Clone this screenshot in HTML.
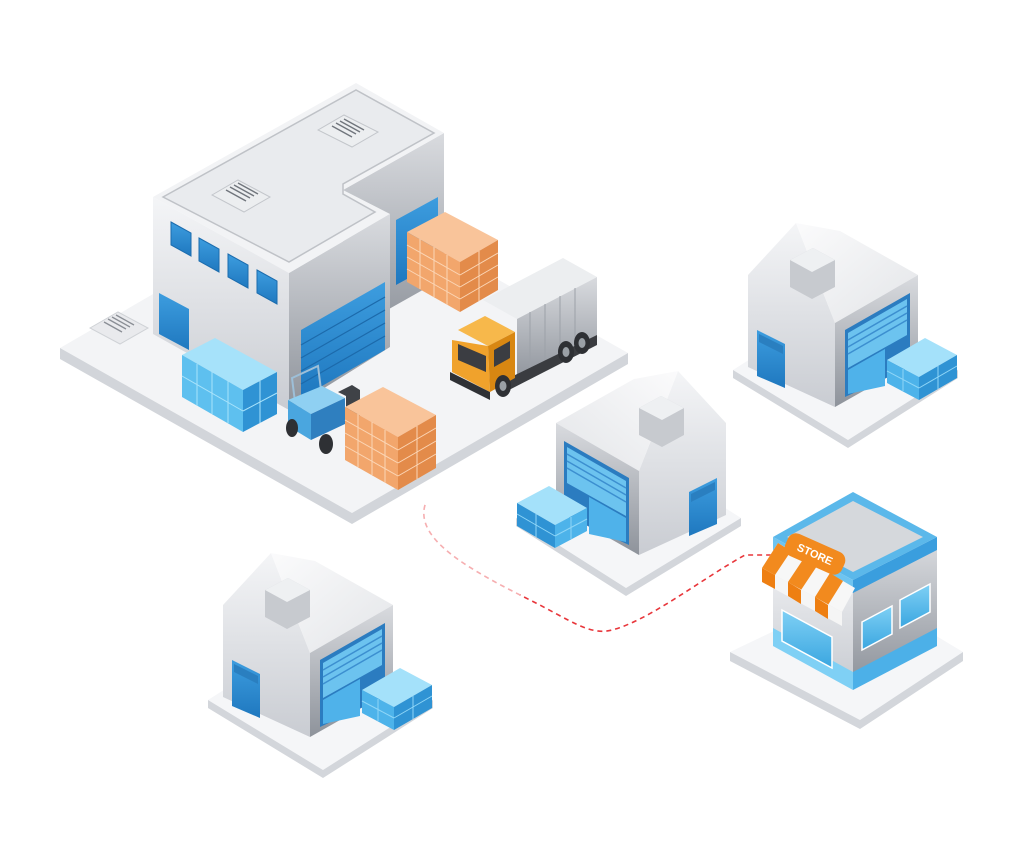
<!DOCTYPE html>
<html><head><meta charset="utf-8"><style>
html,body{margin:0;padding:0;background:#fff;}
svg{display:block;}
</style></head><body>
<svg width="1024" height="853" viewBox="0 0 1024 853" xmlns="http://www.w3.org/2000/svg">
<defs>
<linearGradient id="lw" x1="0" y1="0" x2="0" y2="1"><stop offset="0" stop-color="#f4f5f7"/><stop offset="1" stop-color="#c9ccd2"/></linearGradient>
<linearGradient id="rw" x1="0" y1="0" x2="0" y2="1"><stop offset="0" stop-color="#d9dbdf"/><stop offset="1" stop-color="#8e939b"/></linearGradient>
<linearGradient id="rf" x1="0" y1="0" x2="1" y2="1"><stop offset="0" stop-color="#fbfbfc"/><stop offset="1" stop-color="#e3e5e8"/></linearGradient>
<linearGradient id="bl" x1="0" y1="0" x2="0" y2="1"><stop offset="0" stop-color="#3d9ddf"/><stop offset="1" stop-color="#1f78bf"/></linearGradient>
<linearGradient id="lb" x1="0" y1="0" x2="0" y2="1"><stop offset="0" stop-color="#7fd0f5"/><stop offset="1" stop-color="#3aa6e0"/></linearGradient>
<g id="house">
  <polygon points="208,700 318,630 433,700 323,770" fill="#f5f6f8"/>
  <polygon points="208,700 323,770 433,700 433,708 323,778 208,708" fill="#d3d6db"/>
  <polygon points="223,697 223,605 271,553 310,653 310,737" fill="url(#lw)"/>
  <polygon points="271,553 315,561 393,605 310,653" fill="url(#rf)"/>
  <polygon points="310,653 393,605 393,690 310,737" fill="url(#rw)"/>
  <polygon points="232,660 260,674 260,718 232,706" fill="url(#bl)"/>
  <polygon points="234,664 258,676 258,684 234,672" fill="#2a7fc0"/>
  <polygon points="265,590 288,578 310,590 310,617 287,629 265,617" fill="#c7cacf"/>
  <polygon points="265,590 288,578 310,590 287,602" fill="#eef0f2"/>
  <polygon points="320,660 385,623 385,697 320,727" fill="#2b7cc0"/>
  <polygon points="323,663 382,629 382,665 323,698" fill="#6cc3ef"/>
  <g stroke="#3c8fd0" stroke-width="1.5"><line x1="323" y1="670" x2="382" y2="636"/><line x1="323" y1="677" x2="382" y2="643"/><line x1="323" y1="684" x2="382" y2="650"/></g>
  <polygon points="323,700 360,679 360,716 323,724" fill="#4fb2ea"/>
  <polygon points="362,690 400,668 432,685 394,707" fill="#a4e1fa"/>
  <polygon points="362,690 394,707 394,730 362,713" fill="#4db3ea"/>
  <polygon points="394,707 432,685 432,708 394,730" fill="#2f93d4"/>
  <g stroke="#8fd6f7" stroke-width="1"><line x1="378" y1="699" x2="378" y2="721"/><line x1="362" y1="701" x2="394" y2="718"/><line x1="413" y1="696" x2="413" y2="719"/><line x1="394" y1="718" x2="432" y2="696"/></g>
</g>
</defs>

<!-- main platform -->
<polygon points="60,348 336,188 628,353 352,513" fill="#f3f4f6"/>
<polygon points="60,348 352,513 628,353 628,364 352,524 60,359" fill="#d2d5da"/>
<!-- floor vent -->
<polygon points="90,328 118,312 148,328 120,344" fill="#e9eaed" stroke="#cfd2d6"/>
<g stroke="#8a8e95" stroke-width="1.3"><line x1="104" y1="322" x2="122" y2="332"/><line x1="108" y1="319" x2="126" y2="329"/><line x1="112" y1="317" x2="130" y2="327"/><line x1="116" y1="315" x2="134" y2="325"/></g>

<!-- rear block -->
<polygon points="343,190 444,133 444,278 343,335" fill="url(#rw)"/>
<polygon points="396,220 438,197 438,262 396,285" fill="url(#bl)"/>
<!-- front block -->
<polygon points="153,197 289,273 289,410 153,334" fill="url(#lw)"/>
<polygon points="289,273 390,214 390,347 289,410" fill="url(#rw)"/>
<polygon points="153,197 356,83 444,133 343,190 390,214 289,273" fill="#f2f3f5"/>
<polygon points="163,197 356,90 434,133 343,184 343,194 375,212 289,262" fill="#e9ebee" stroke="#bfc2c7" stroke-width="1.5"/>
<!-- roof vents -->
<polygon points="212,195 238,180 270,197 244,212" fill="#eceef0" stroke="#c3c6cb"/>
<g stroke="#70757c" stroke-width="1.4"><line x1="226" y1="190" x2="246" y2="201"/><line x1="230" y1="187" x2="250" y2="198"/><line x1="234" y1="185" x2="254" y2="196"/><line x1="238" y1="183" x2="258" y2="194"/></g>
<polygon points="318,130 344,115 378,132 352,147" fill="#eceef0" stroke="#c3c6cb"/>
<g stroke="#70757c" stroke-width="1.4"><line x1="332" y1="126" x2="352" y2="137"/><line x1="336" y1="123" x2="356" y2="134"/><line x1="340" y1="121" x2="360" y2="132"/><line x1="344" y1="119" x2="364" y2="130"/></g>
<!-- windows -->
<g fill="url(#bl)" stroke="#1b6cae" stroke-width="1">
<polygon points="171,222 191,233 191,256 171,245"/>
<polygon points="199,238 219,249 219,272 199,261"/>
<polygon points="228,254 248,265 248,288 228,277"/>
<polygon points="257,270 277,281 277,304 257,293"/>
</g>
<polygon points="159,293 189,309 189,350 159,334" fill="url(#bl)"/>
<!-- garage door front -->
<polygon points="301,330 385,282 385,350 301,398" fill="url(#bl)"/>
<g stroke="#1c6aab" stroke-width="1.2"><line x1="301" y1="345" x2="385" y2="297"/><line x1="301" y1="358" x2="385" y2="310"/><line x1="301" y1="371" x2="385" y2="323"/><line x1="301" y1="384" x2="385" y2="336"/></g>

<!-- pallet 1 -->
<polygon points="407,232 445,212 498,240 460,262" fill="#f9c49a"/>
<polygon points="407,232 460,262 460,312 407,282" fill="#f2a66c"/>
<polygon points="460,262 498,240 498,290 460,312" fill="#e38b4a"/>
<g stroke="#fbd6b6" stroke-width="1"><line x1="407" y1="245" x2="460" y2="275"/><line x1="407" y1="257" x2="460" y2="287"/><line x1="407" y1="269" x2="460" y2="299"/><line x1="420" y1="239" x2="420" y2="289"/><line x1="434" y1="247" x2="434" y2="297"/><line x1="447" y1="255" x2="447" y2="305"/><line x1="479" y1="251" x2="479" y2="301"/><line x1="460" y1="275" x2="498" y2="253"/><line x1="460" y1="287" x2="498" y2="265"/><line x1="460" y1="299" x2="498" y2="277"/></g>

<!-- blue box stack -->
<polygon points="182,355 215,338 277,372 243,390" fill="#a6e2fa"/>
<polygon points="182,355 243,390 243,432 182,397" fill="#5ec0ef"/>
<polygon points="243,390 277,372 277,414 243,432" fill="#2f93d4"/>
<g stroke="#a8e3fb" stroke-width="1"><line x1="182" y1="376" x2="243" y2="411"/><line x1="197" y1="364" x2="197" y2="406"/><line x1="212" y1="372" x2="212" y2="414"/><line x1="228" y1="381" x2="228" y2="423"/><line x1="243" y1="411" x2="277" y2="393"/><line x1="260" y1="381" x2="260" y2="423"/></g>

<!-- truck -->
<polygon points="483,300 563,258 597,277 517,319" fill="#eceef0"/>
<polygon points="517,319 597,277 597,340 517,382" fill="url(#rw)"/>
<g stroke="#9ca1a8" stroke-width="1"><line x1="530" y1="312" x2="530" y2="375"/><line x1="545" y1="304" x2="545" y2="367"/><line x1="560" y1="296" x2="560" y2="359"/><line x1="575" y1="288" x2="575" y2="351"/></g>
<polygon points="505,380 597,335 597,345 505,392" fill="#3a3c40"/>
<polygon points="458,330 485,316 515,332 488,346" fill="#f7b84b"/>
<polygon points="452,340 488,346 490,392 452,372" fill="#f0a22c"/>
<polygon points="488,346 515,332 515,378 490,392" fill="#d88712"/>
<polygon points="458,344 486,356 486,372 458,360" fill="#3b3d42"/>
<polygon points="494,350 510,341 510,358 494,367" fill="#3b3d42"/>
<polygon points="450,372 490,392 490,400 450,380" fill="#2f3135"/>
<ellipse cx="503" cy="386" rx="8" ry="11" fill="#2e3034"/><ellipse cx="503" cy="386" rx="3.5" ry="5" fill="#9aa0a6"/>
<ellipse cx="566" cy="352" rx="8" ry="11" fill="#2e3034"/><ellipse cx="566" cy="352" rx="3.5" ry="5" fill="#9aa0a6"/>
<ellipse cx="582" cy="343" rx="8" ry="11" fill="#2e3034"/><ellipse cx="582" cy="343" rx="3.5" ry="5" fill="#9aa0a6"/>

<!-- forklift -->
<polygon points="292,378 318,366 322,398 296,410" fill="none" stroke="#9dbfd8" stroke-width="2"/>
<polygon points="288,400 322,386 345,398 311,414" fill="#8fd0f2"/>
<polygon points="288,400 311,414 311,440 288,426" fill="#4aa6df"/>
<polygon points="311,414 345,398 345,424 311,440" fill="#2f7fbf"/>
<polygon points="338,392 352,385 360,390 360,440 352,444 346,440 346,396" fill="#3f4247"/>
<ellipse cx="292" cy="428" rx="6" ry="9" fill="#2e3034"/>
<ellipse cx="326" cy="444" rx="7" ry="10" fill="#2e3034"/>

<!-- pallet 2 -->
<polygon points="345,407 383,387 436,415 398,437" fill="#f9c49a"/>
<polygon points="345,407 398,437 398,490 345,460" fill="#f2a66c"/>
<polygon points="398,437 436,415 436,468 398,490" fill="#e38b4a"/>
<g stroke="#fbd6b6" stroke-width="1"><line x1="345" y1="420" x2="398" y2="450"/><line x1="345" y1="433" x2="398" y2="463"/><line x1="345" y1="446" x2="398" y2="476"/><line x1="358" y1="414" x2="358" y2="467"/><line x1="372" y1="422" x2="372" y2="475"/><line x1="385" y1="430" x2="385" y2="483"/><line x1="417" y1="426" x2="417" y2="479"/><line x1="398" y1="450" x2="436" y2="428"/><line x1="398" y1="463" x2="436" y2="441"/><line x1="398" y1="476" x2="436" y2="454"/></g>

<!-- dashed route -->
<path d="M425,505 C415,540 470,570 530,600 C570,620 590,636 612,630 C650,620 700,580 745,555 L772,555" fill="none" stroke="#e8363b" stroke-width="1.6" stroke-dasharray="5 4"/>
<path d="M425,505 C415,540 470,570 520,595" fill="none" stroke="#fff" stroke-width="2.5" opacity="0.6"/>

<!-- houses -->
<use href="#house" transform="translate(525,-330)"/>
<use href="#house" transform="translate(949,-182) scale(-1,1)"/>
<use href="#house"/>

<!-- store -->
<polygon points="730,652 860,590 963,652 860,720" fill="#f5f6f8"/>
<polygon points="730,652 860,720 963,652 963,661 860,729 730,661" fill="#d3d6db"/>
<polygon points="773,545 853,590 853,683 773,640" fill="url(#lw)"/>
<polygon points="853,590 937,542 937,640 853,683" fill="url(#rw)"/>
<polygon points="773,628 853,672 853,690 773,646" fill="#7fd0f5"/>
<polygon points="853,672 937,628 937,646 853,690" fill="#4cb0e8"/>
<polygon points="862,622 892,606 892,634 862,650" fill="url(#lb)" stroke="#fff" stroke-width="1.5"/>
<polygon points="900,600 930,584 930,612 900,628" fill="url(#lb)" stroke="#fff" stroke-width="1.5"/>
<polygon points="782,610 832,637 832,668 782,641" fill="url(#lb)" stroke="#fff" stroke-width="1.5"/>
<polygon points="773,537 853,492 937,537 853,580" fill="#5bb8ea"/>
<polygon points="787,537 853,501 923,537 853,572" fill="#d5d8dc"/>
<polygon points="773,537 853,580 853,593 773,550" fill="#6ec4f0"/>
<polygon points="853,580 937,537 937,550 853,593" fill="#3a9ede"/>
<!-- awning -->
<polygon points="778,543 855,588 842,612 762,568" fill="#f7f7f7"/>
<g fill="#f28a1e">
<polygon points="778,543 791,551 775,575 762,568"/>
<polygon points="804,558 817,566 801,590 788,582"/>
<polygon points="830,573 843,581 828,605 815,597"/>
</g>
<polygon points="762,568 842,612 842,626 762,582" fill="#f5f5f5"/>
<g fill="#ee7f12"><polygon points="762,568 775,575 775,589 762,582"/><polygon points="788,582 801,590 801,604 788,596"/><polygon points="815,597 828,605 828,619 815,611"/></g>
<g transform="translate(815,554) rotate(24)"><rect x="-31" y="-12" width="62" height="24" rx="9" fill="#f28a1e"/><text x="0" y="4" text-anchor="middle" font-family="Liberation Sans, sans-serif" font-weight="bold" font-size="11" fill="#fff">STORE</text></g>
</svg>
</body></html>
